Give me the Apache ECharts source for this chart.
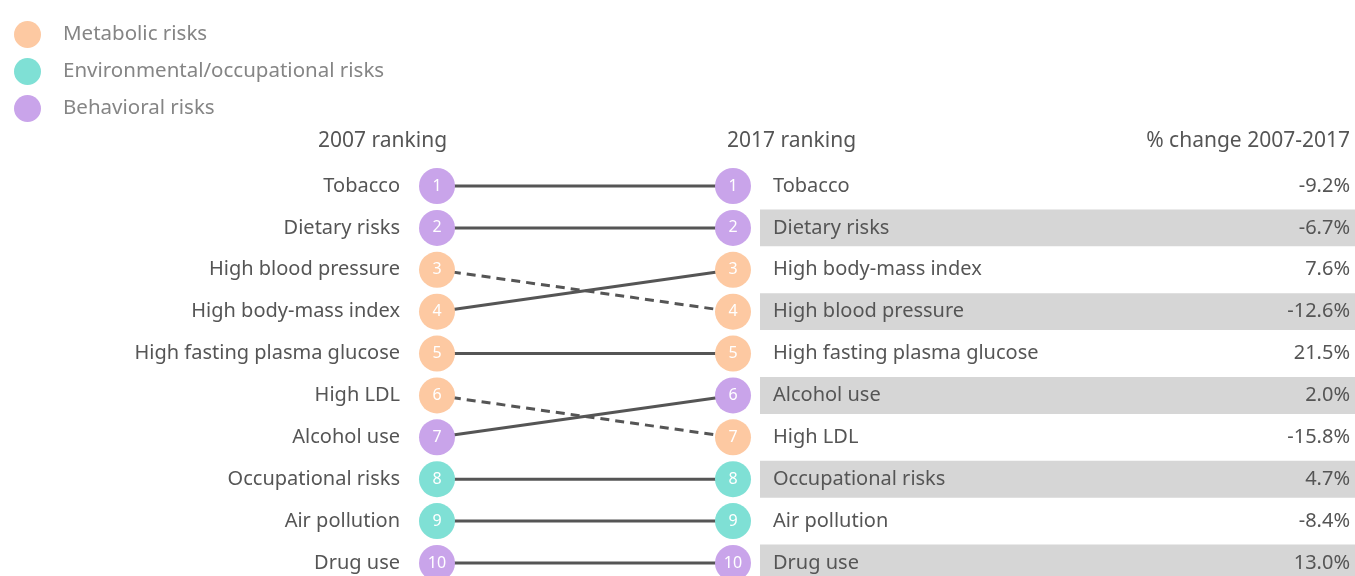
<!DOCTYPE html>
<html>
<head>
<meta charset="utf-8">
<script src="https://cdn.jsdelivr.net/npm/echarts@6/dist/echarts.min.js"></script>
<style>
  html, body { margin: 0; padding: 0; background: #fff; }
  #chart { width: 1355px; height: 576px; }
</style>
</head>
<body>
<div id="chart"></div>
<script>
// Top risk factors, ranked for 2007 and 2017
const risks2007 = ['Tobacco', 'Dietary risks', 'High blood pressure', 'High body-mass index',
  'High fasting plasma glucose', 'High LDL', 'Alcohol use', 'Occupational risks', 'Air pollution', 'Drug use'];
const risks2017 = ['Tobacco', 'Dietary risks', 'High body-mass index', 'High blood pressure',
  'High fasting plasma glucose', 'Alcohol use', 'High LDL', 'Occupational risks', 'Air pollution', 'Drug use'];
// % change 2007-2017, in 2017 order
const pctChange = [-9.2, -6.7, 7.6, -12.6, 21.5, 2.0, -15.8, 4.7, -8.4, 13.0];
// risk group of each factor, in 2007 order
const riskGroups = ['Behavioral risks', 'Behavioral risks', 'Metabolic risks', 'Metabolic risks',
  'Metabolic risks', 'Metabolic risks', 'Behavioral risks', 'Environmental/occupational risks',
  'Environmental/occupational risks', 'Behavioral risks'];
const groupNames = ['Metabolic risks', 'Environmental/occupational risks', 'Behavioral risks'];
const groupColors = ['#fdc9a2', '#7fe0d5', '#c9a4ea'];
// 2017 rows drawn with a grey band
const shadedRanks = [2, 4, 6, 8, 10];

const FONT = '"Noto Sans"';
const TEXT = '#555';
const SIZE = 20;

const chart = echarts.init(document.getElementById('chart'));

// connector lines, dashed where the factor dropped in rank
const lineSeries = risks2007.map((name, i) => {
  const r07 = i + 1;
  const r17 = risks2017.indexOf(name) + 1;
  return {
    type: 'line', xAxisIndex: 0, yAxisIndex: 0, silent: true, symbol: 'none', z: 2,
    clip: false,
    data: [[0, r07], [1, r17]],
    lineStyle: { color: '#555', width: 3, type: r17 > r07 ? [9, 6] : 'solid' }
  };
});

// rank circles, one series per group
const pointSeries = groupNames.map((g, gi) => {
  const data = [];
  risks2007.forEach((name, i) => {
    if (riskGroups[i] !== g) return;
    data.push([0, i + 1]);
    data.push([1, risks2017.indexOf(name) + 1]);
  });
  return {
    name: g, type: 'scatter', xAxisIndex: 0, yAxisIndex: 0, z: 5, clip: false,
    symbol: 'circle', symbolSize: 36, silent: true,
    itemStyle: { color: groupColors[gi], opacity: 1 },
    label: {
      show: true, position: 'inside', color: '#fff', fontFamily: FONT, fontSize: 16,
      formatter: p => String(p.value[1])
    },
    data
  };
});

// grey bands behind alternate 2017 rows
const bandSeries = {
  type: 'custom', xAxisIndex: 1, yAxisIndex: 2, silent: true, z: 0, clip: false,
  data: shadedRanks.map(r => [r]),
  renderItem: (params, api) => {
    const r = api.value(0);
    const h = api.size([0, 1])[1] * 0.88;
    const p0 = api.coord([0, r]);
    const p1 = api.coord([1, r]);
    return {
      type: 'rect',
      shape: { x: p0[0], y: p0[1] - h / 2, width: p1[0] - p0[0], height: h },
      style: { fill: '#d6d6d6' }
    };
  }
};

const headerStyle = { fontFamily: FONT, fontSize: 21, fontWeight: 'normal', color: TEXT };

chart.setOption({
  backgroundColor: '#fff',
  animation: false,
  title: [
    { text: '2007 ranking', left: 318, top: 131, padding: 0, textStyle: headerStyle },
    { text: '2017 ranking', left: 727, top: 131, padding: 0, textStyle: headerStyle },
    { text: '% change 2007-2017', right: 5, top: 131, padding: 0, textStyle: headerStyle }
  ],
  legend: {
    orient: 'vertical', left: 9, top: 16, itemWidth: 27, itemHeight: 27, itemGap: 10,
    icon: 'circle', selectedMode: false,
    data: groupNames,
    textStyle: { fontFamily: FONT, fontSize: 20.5, color: '#858585', padding: [0, 0, 0, 17] }
  },
  grid: [
    { left: 437, right: 622, top: 186, bottom: 13 },
    { left: 760, right: 0, top: 186, bottom: 13 }
  ],
  xAxis: [
    { type: 'value', gridIndex: 0, min: 0, max: 1, show: false },
    { type: 'value', gridIndex: 1, min: 0, max: 1, show: false }
  ],
  yAxis: [
    {
      type: 'value', gridIndex: 0, min: 1, max: 10, interval: 1, inverse: true, position: 'left',
      axisLine: { show: false }, axisTick: { show: false }, splitLine: { show: false },
      axisLabel: {
        margin: 37, fontFamily: FONT, fontSize: SIZE, color: TEXT,
        formatter: v => risks2007[v - 1] || ''
      }
    },
    {
      type: 'value', gridIndex: 0, min: 1, max: 10, interval: 1, inverse: true, position: 'right',
      axisLine: { show: false }, axisTick: { show: false }, splitLine: { show: false },
      axisLabel: {
        margin: 40, fontFamily: FONT, fontSize: SIZE, color: TEXT,
        formatter: v => risks2017[v - 1] || ''
      }
    },
    {
      type: 'value', gridIndex: 1, min: 1, max: 10, interval: 1, inverse: true, position: 'right',
      axisLine: { show: false }, axisTick: { show: false }, splitLine: { show: false },
      axisLabel: {
        inside: true, margin: 5, fontFamily: FONT, fontSize: SIZE, color: TEXT,
        formatter: v => (pctChange[v - 1] === undefined ? '' : pctChange[v - 1].toFixed(1) + '%')
      }
    }
  ],
  series: [bandSeries, ...lineSeries, ...pointSeries]
});
</script>
</body>
</html>
